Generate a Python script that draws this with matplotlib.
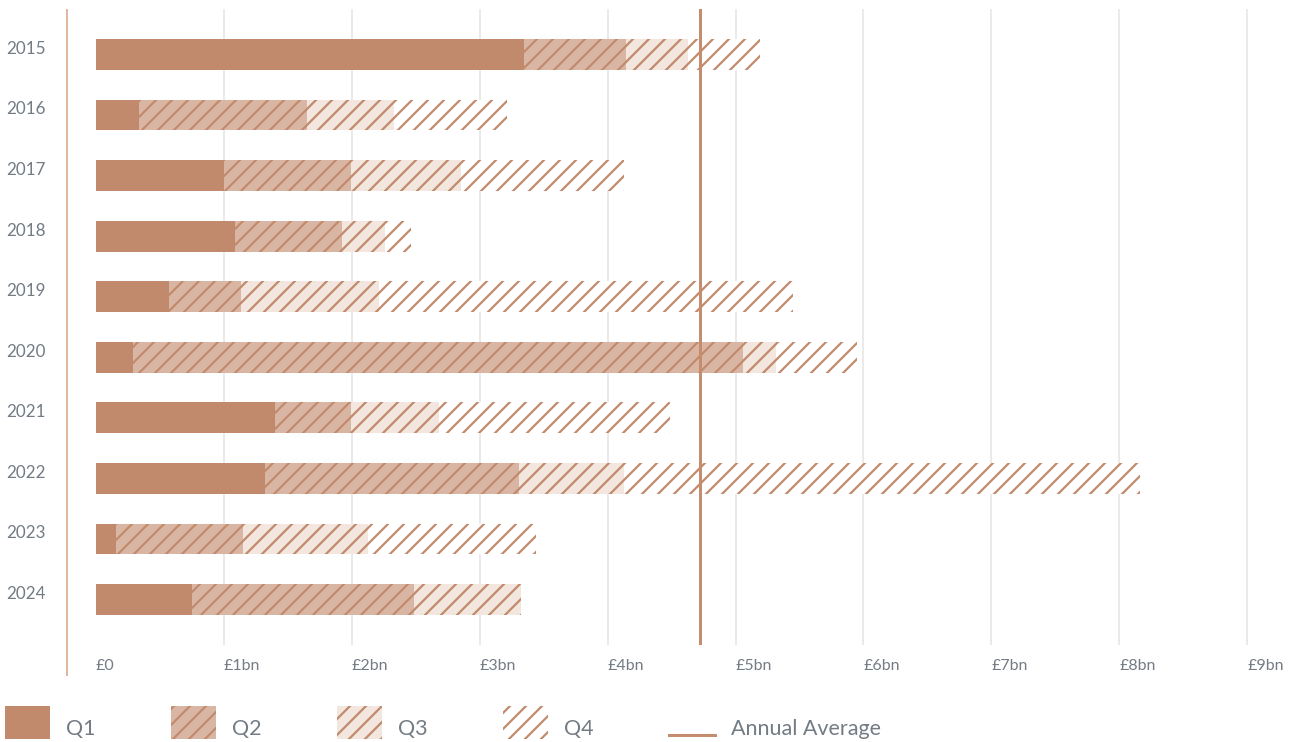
import matplotlib
matplotlib.use("Agg")
import matplotlib.pyplot as plt
import numpy as np
from matplotlib.patches import Patch
from matplotlib.lines import Line2D
from matplotlib.legend_handler import HandlerLine2D
from matplotlib.transforms import ScaledTranslation

# quarterly spend per year, £bn
years = ["2015", "2016", "2017", "2018", "2019", "2020", "2021", "2022", "2023", "2024"]
q1 = [3.35, 0.34, 1.00, 1.09, 0.57, 0.29, 1.40, 1.32, 0.16, 0.75]
q2 = [0.79, 1.31, 0.99, 0.83, 0.56, 4.77, 0.59, 1.99, 0.99, 1.74]
q3 = [0.49, 0.68, 0.86, 0.34, 1.08, 0.26, 0.69, 0.82, 0.98, 0.83]
q4 = [0.56, 0.88, 1.28, 0.20, 3.24, 0.63, 1.81, 4.03, 1.31, 0.00]
quarters = ["Q1", "Q2", "Q3", "Q4"]
xtick_vals = [0, 1, 2, 3, 4, 5, 6, 7, 8, 9]
xtick_labels = ["£0", "£1bn", "£2bn", "£3bn", "£4bn", "£5bn", "£6bn", "£7bn", "£8bn", "£9bn"]

brown = "#c18a6c"
fills = [brown, "#d9b6a3", "#f2e6df", "#ffffff"]
hatches = [None, "//", "//", "//"]
grey_text = "#737b84"

DPI = 96
PT = 72 / DPI  # pixels -> points

plt.rcParams["font.family"] = ["Lato", "DejaVu Sans"]
plt.rcParams["hatch.linewidth"] = 2.2 * PT
plt.rcParams["hatch.color"] = brown


class LowLine(HandlerLine2D):
    # legend line sitting near the bottom of the handle box
    def create_artists(self, legend, orig_handle, xdescent, ydescent,
                       width, height, fontsize, trans):
        arts = super().create_artists(legend, orig_handle, xdescent, ydescent,
                                      width, height, fontsize, trans)
        for a in arts:
            a.set_ydata([-ydescent + 4 * PT] * len(a.get_xdata()))
        return arts


W, H = 1292, 742
fig = plt.figure(figsize=(W / DPI, H / DPI), dpi=DPI)
ax = fig.add_axes([67 / W, 1 - 645 / H, (1275 - 67) / W, (645 - 9) / H])

pos = np.arange(len(years))
data = np.array([q1, q2, q3, q4])
left = np.zeros(len(years))
for i in range(4):
    ax.barh(pos, data[i], left=left, height=0.51, color=fills[i],
            edgecolor=brown, hatch=hatches[i], linewidth=0, zorder=2)
    left += data[i]

# average over complete years only (2024 has no Q4 yet)
totals = data.sum(axis=0)
avg = totals[:-1].mean()
ax.axvline(avg, color="#c48d6e", lw=3 * PT, zorder=3)

px_per_bn = 127.9
ax.set_xlim((67 - 96) / px_per_bn, (1275 - 96) / px_per_bn)
ax.set_ylim(9.75, -0.75)

for v in xtick_vals[1:]:
    ax.axvline(v, color="#e4e4e4", lw=1.5 * PT, zorder=0)

ax.set_xticks(xtick_vals)
ax.set_xticklabels(xtick_labels, ha="left", color=grey_text, fontsize=16 * PT)
ax.tick_params(axis="x", length=0, pad=14 * PT)

ax.set_yticks(pos)
ax.set_yticklabels(years, ha="left", color=grey_text, fontsize=17 * PT)
ax.tick_params(axis="y", length=0, pad=61 * PT)
for lab in ax.get_yticklabels():
    lab.set_transform(lab.get_transform() + ScaledTranslation(0, 7 / DPI, fig.dpi_scale_trans))

for s in ax.spines.values():
    s.set_visible(False)

fig.add_artist(Line2D([67 / W, 67 / W], [1 - 10 / H, 1 - 675 / H],
                      transform=fig.transFigure, color="#e0b7a0", lw=2 * PT))

handles = [Patch(facecolor=fills[i], edgecolor=brown, hatch=hatches[i], linewidth=0)
           for i in range(4)]
avg_handle = Line2D([], [], color="#c48d6e", lw=3 * PT)
handles.append(avg_handle)
leg = fig.legend(handles, quarters + ["Annual Average"], loc="lower left",
                 bbox_to_anchor=(5 / W, 3 / H), ncol=5, frameon=False, fontsize=21.5 * PT,
                 handlelength=2.1, handleheight=2.0, handletextpad=0.75,
                 columnspacing=3.5, borderpad=0, borderaxespad=0, labelcolor=grey_text,
                 handler_map={avg_handle: LowLine()})
# nudge the legend labels down a little
for t in leg.get_texts():
    t.set_y(-6)

fig.savefig("out.png", dpi=DPI)
